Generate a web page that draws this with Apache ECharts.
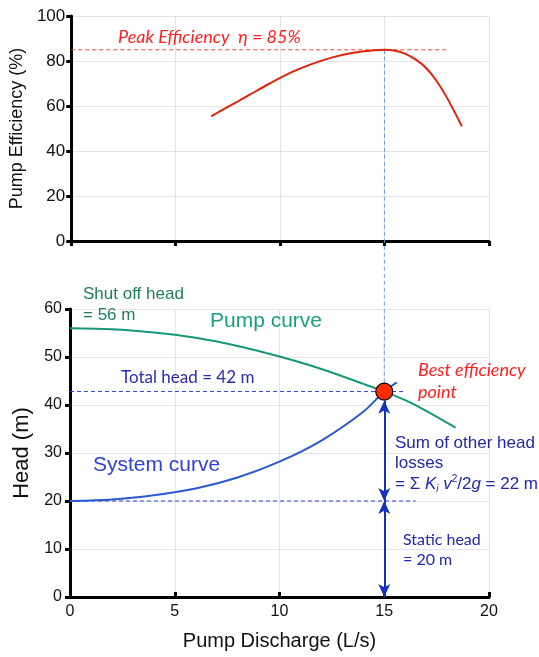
<!DOCTYPE html>
<html><head><meta charset="utf-8">
<script src="https://cdn.jsdelivr.net/npm/echarts@6/dist/echarts.min.js"></script>
<style>html,body{margin:0;padding:0;background:#fff}#c{width:539px;height:657px}</style>
</head><body><div id="c"></div>
<script>
// ---- data ----
const effQ   = [6.7, 7.5, 8.5, 9.5, 10.5, 11.5, 12.5, 13.5, 14.5, 15, 15.5, 16, 16.5, 17, 17.5, 18, 18.7];
const effEta = [55.4, 59.6, 64.8, 70.0, 74.8, 78.6, 81.6, 83.7, 84.8, 85.0, 84.6, 83.2, 80.6, 76.8, 71.0, 63.5, 51.0];
const pumpQ  = [0, 2, 4, 6, 8, 10, 12, 14, 15, 16, 17, 18.4];
const pumpH  = [56, 55.8, 55.1, 54.0, 52.3, 50.1, 47.5, 44.4, 42.8, 41.0, 38.8, 35.3];
const sysQ   = [0, 2, 4, 6, 8, 10, 12, 14, 15, 15.6];
const sysH   = [20, 20.3, 21.2, 22.6, 24.9, 28.2, 32.6, 38.6, 42.8, 44.7];
const bepQ = 15, bepH = 42.8, peakEta = 85, staticH = 20;
const peakLineEnd = 18.1, totalLineEnd = 16.0, staticLineEnd = 16.5;
const xTicks = [0, 5, 10, 15, 20];
const effTicks = [0, 20, 40, 60, 80, 100];
const headTicks = [0, 10, 20, 30, 40, 50, 60];

const zip = (a, b) => a.map((v, i) => [v, b[i]]);
const BLK = '#000', GRID = '#e4e4e4';
const FONT = '"Liberation Sans", Arial, sans-serif';
const MY = 'Lato, "Open Sans", sans-serif';
const NAVY = '#2228a8';

const axisBase = {
  type: 'value',
  axisLine: { show: true, lineStyle: { color: BLK, width: 3 } },
  axisTick: { show: true, length: 5, lineStyle: { color: BLK, width: 3 } },
  splitLine: { show: true, lineStyle: { color: GRID, width: 1 } },
};

const chart = echarts.init(document.getElementById('c'), null, { renderer: 'canvas' });
const dashSeries = (pts, color, gi) => ({ type: 'line', xAxisIndex: gi, yAxisIndex: gi, data: pts, showSymbol: false,
  silent: true, z: 3, lineStyle: { color: color, type: [4, 3], width: 1 } });
const option = {
  animation: false,
  backgroundColor: '#fff',
  grid: [
    { left: 70, top: 16, width: 419, height: 225 },
    { left: 70, top: 309, width: 419, height: 288 }
  ],
  xAxis: [
    Object.assign({}, axisBase, { gridIndex: 0, min: xTicks[0], max: xTicks[xTicks.length - 1], interval: 5,
      axisLabel: { show: false } }),
    Object.assign({}, axisBase, { gridIndex: 1, min: xTicks[0], max: xTicks[xTicks.length - 1], interval: 5,
      axisTick: { show: true, inside: true, length: 5, lineStyle: { color: BLK, width: 3 } },
      axisLabel: { fontSize: 16, color: '#111', fontFamily: FONT, margin: 7 },
      name: 'Pump Discharge (L/s)', nameLocation: 'middle', nameGap: 34,
      nameTextStyle: { fontSize: 20, color: '#111', fontFamily: FONT } })
  ],
  yAxis: [
    Object.assign({}, axisBase, { gridIndex: 0, min: effTicks[0], max: effTicks[effTicks.length - 1], interval: 20,
      axisLabel: { fontSize: 17, color: '#111', fontFamily: FONT, margin: 6 },
      name: 'Pump Efficiency (%)', nameLocation: 'middle', nameGap: 38,
      nameTextStyle: { fontSize: 18, color: '#111', fontFamily: FONT } }),
    Object.assign({}, axisBase, { gridIndex: 1, min: headTicks[0], max: headTicks[headTicks.length - 1], interval: 10,
      axisLabel: { fontSize: 16, color: '#111', fontFamily: FONT, margin: 8 },
      name: 'Head (m)', nameLocation: 'middle', nameGap: 33,
      nameTextStyle: { fontSize: 22, color: '#111', fontFamily: FONT } })
  ],
  series: [
    dashSeries([[0, peakEta], [peakLineEnd, peakEta]], '#f04a3a', 0),
    dashSeries([[0, bepH], [totalLineEnd, bepH]], '#3041e0', 1),
    dashSeries([[0, staticH], [staticLineEnd, staticH]], '#3041e0', 1),
    { type: 'line', xAxisIndex: 0, yAxisIndex: 0, data: zip(effQ, effEta), smooth: 0.3, showSymbol: false,
      lineStyle: { color: '#e0230c', width: 2 }, z: 5 },
    { type: 'line', xAxisIndex: 1, yAxisIndex: 1, data: zip(pumpQ, pumpH), smooth: 0.3, showSymbol: false,
      lineStyle: { color: '#17977a', width: 2 }, z: 5 },
    { type: 'line', xAxisIndex: 1, yAxisIndex: 1, data: zip(sysQ, sysH), smooth: 0.3, showSymbol: false,
      lineStyle: { color: '#2a5ad0', width: 2 }, z: 5 },
    { type: 'line', xAxisIndex: 1, yAxisIndex: 1, data: [], showSymbol: false,
      markLine: { silent: true, symbol: ['arrow', 'arrow'], symbolSize: [9, 13], label: { show: false },
        lineStyle: { color: '#1530c0', type: 'solid', width: 2 },
        data: [
          [{ coord: [bepQ, bepH - 1.9] }, { coord: [bepQ, staticH] }],
          [{ coord: [bepQ, staticH] }, { coord: [bepQ, 0] }]
        ] } },
    { type: 'scatter', xAxisIndex: 1, yAxisIndex: 1, data: [[bepQ, bepH]], symbolSize: 17, z: 20, zlevel: 1,
      itemStyle: { color: '#ff2a00', borderColor: '#000', borderWidth: 1.2, opacity: 1 } }
  ]
};
chart.setOption(option);

const p1 = chart.convertToPixel({ gridIndex: 0 }, [bepQ, peakEta]);
const p2 = chart.convertToPixel({ gridIndex: 1 }, [bepQ, bepH]);
const txt = (t, x, y, size, color, extra) => Object.assign({ type: 'text', z: 20,
  style: Object.assign({ text: t, x: x, y: y, fill: color, fontSize: size, fontFamily: FONT, verticalAlign: 'middle', align: 'left' }, extra || {}) });

chart.setOption({
  graphic: [
    { type: 'line', z: 1, shape: { x1: p1[0], y1: p1[1], x2: p2[0], y2: p2[1] },
      style: { stroke: '#6f9bd6', lineWidth: 1, lineDash: [4, 3] } },
    txt('Peak Efficiency  η = 85%', 118, 37, 18, '#ff1f1f', { fontStyle: 'italic', fontFamily: MY }),
    txt('Shut off head', 83, 294, 17, '#1f7d5e'),
    txt('= 56 m', 83, 315, 17, '#1f7d5e'),
    txt('Pump curve', 210, 321, 21, '#1aa07e'),
    txt('Total head = 42 m', 121, 378, 17, '#2b2bb0', { fontFamily: MY }),
    txt('System curve', 93, 465, 21, '#2f40d8'),
    txt('Best efficiency', 418, 370, 18, '#ff1f1f', { fontStyle: 'italic', fontFamily: MY }),
    txt('point', 418, 392, 18, '#ff1f1f', { fontStyle: 'italic', fontFamily: MY }),
    txt('Sum of other head', 395, 443, 17, NAVY),
    txt('losses', 395, 463, 17, NAVY),
    { type: 'text', z: 20, style: {
        text: '{n|= Σ }{it|K}{sub|i}{n| }{it|v}{sup|2}{n|/2}{it|g}{n| = 22 m}',
        x: 395, y: 484, verticalAlign: 'middle', align: 'left', fill: NAVY,
        rich: {
          n: { fontSize: 17, fontFamily: FONT, fill: NAVY, lineHeight: 20 },
          it: { fontSize: 17, fontFamily: FONT, fontStyle: 'italic', fill: NAVY, lineHeight: 20 },
          sub: { fontSize: 10, fontFamily: FONT, fontStyle: 'italic', fill: NAVY, lineHeight: 20, verticalAlign: 'bottom', padding: [8, 0, 0, 0] },
          sup: { fontSize: 10, fontFamily: FONT, fill: NAVY, lineHeight: 20, verticalAlign: 'top', padding: [0, 0, 8, 0] }
        } } },
    txt('Static head', 403, 540, 16, NAVY, { fontFamily: MY }),
    txt('= 20 m', 403, 560, 16, NAVY, { fontFamily: MY })
  ]
});
</script></body></html>
